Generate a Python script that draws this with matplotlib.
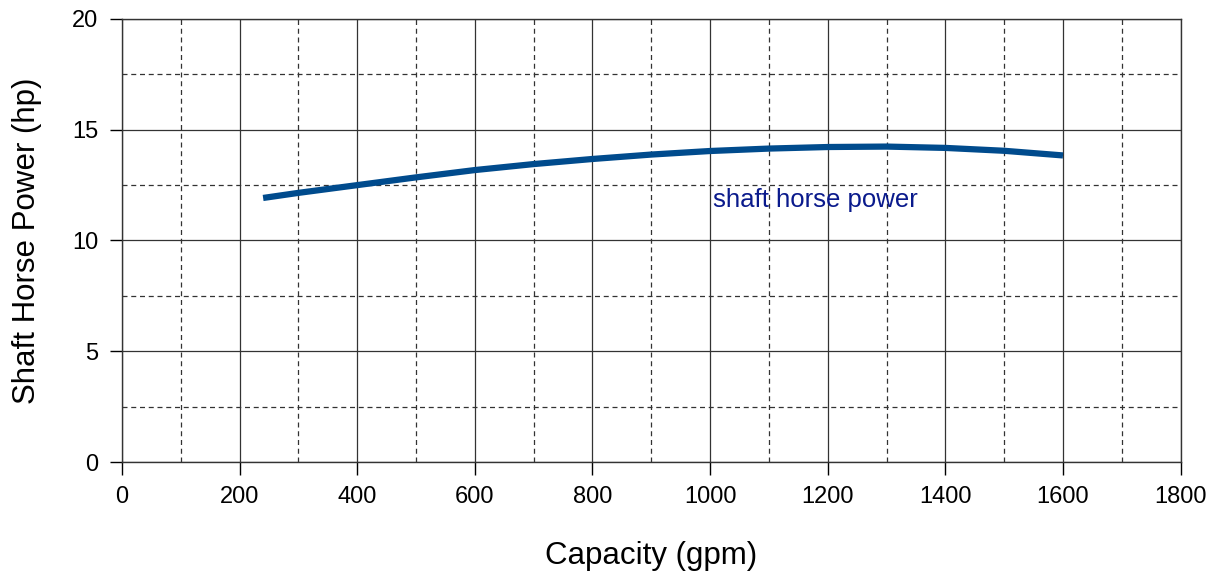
import numpy as np
import matplotlib
matplotlib.use('Agg')
import matplotlib.pyplot as plt

plt.rcParams['font.family'] = ['Liberation Sans', 'DejaVu Sans']

capacity = [240, 300, 400, 500, 600, 700, 800, 900, 1000, 1100, 1200, 1300, 1400, 1500, 1600]
shp = [11.92, 12.15, 12.5, 12.85, 13.18, 13.45, 13.68, 13.88, 14.04, 14.15, 14.22, 14.24, 14.18, 14.05, 13.84]

fig = plt.figure(figsize=(12.16, 5.72), dpi=100)
ax = fig.add_axes([0.1003, 0.1923, 0.8706, 0.7745])

ax.plot(capacity, shp, color='#004b8d', linewidth=4.5, solid_capstyle='butt', zorder=3)
ax.text(1005, 11.83, 'shaft horse power', color='#0a1a8c', fontsize=18.5, va='center', ha='left')

ax.set_xlim(0, 1800); ax.set_ylim(0, 20)
ax.set_xticks(np.arange(0, 1801, 200)); ax.set_yticks(np.arange(0, 21, 5))
ax.set_xticks(np.arange(100, 1800, 200), minor=True)
ax.set_yticks(np.arange(2.5, 20, 5), minor=True)
ax.grid(True, which='major', color='#333333', linewidth=0.9, linestyle='-')
ax.grid(True, which='minor', color='#333333', linewidth=0.9, linestyle=(0, (4, 3)))
ax.tick_params(which='major', direction='out', length=9, width=1, labelsize=17, pad=8)
ax.tick_params(which='minor', length=0)
for s in ax.spines.values():
    s.set_linewidth(1); s.set_color('#333333')

ax.set_xlabel('Capacity (gpm)', fontsize=22.5, labelpad=24)
ax.set_ylabel('Shaft Horse Power (hp)', fontsize=22.5, labelpad=22)

fig.savefig('out.png', dpi=100)
